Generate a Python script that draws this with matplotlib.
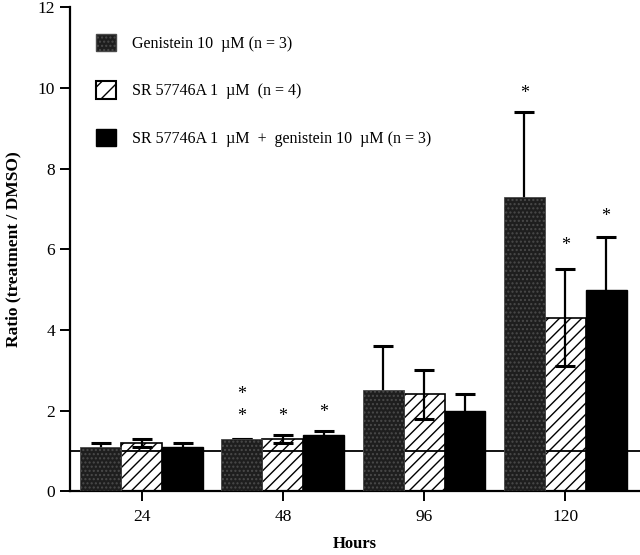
import numpy as np
import matplotlib.pyplot as plt
from matplotlib.patches import Patch

plt.rcParams['font.family'] = ['Liberation Serif', 'DejaVu Serif']

hours = ['24', '48', '96', '120']
labels = ['Genistein 10  \u00b5M (n = 3)',
          'SR 57746A 1  \u00b5M  (n = 4)',
          'SR 57746A 1  \u00b5M  +  genistein 10  \u00b5M (n = 3)']

# Mittelwerte und Fehler
geni = [1.1, 1.3, 2.5, 7.3]
geni_err = [0.1, 0.0, 1.1, 2.1]
sr = [1.2, 1.3, 2.4, 4.3]
sr_err = [0.1, 0.1, 0.6, 1.2]
combi = [1.1, 1.4, 2.0, 5.0]
combi_err = [0.1, 0.1, 0.4, 1.3]

# Sternchen: (Gruppe, Serie, y)
stars = [(1, 0, 2.4), (1, 0, 1.85), (1, 1, 1.85), (1, 2, 1.95),
         (3, 0, 9.85), (3, 1, 6.1), (3, 2, 6.8)]

fig = plt.figure(figsize=(6.4, 5.55), dpi=100)
ax = fig.add_axes([0.109, 0.115, 0.891, 0.872])

x = np.arange(len(hours))
w = 0.29
offs = [-w, 0, w]

# Reihenfolge: schraffiert < Linie y=1 < dunkle Balken
ax.bar(x + offs[1], sr, w, color='white', edgecolor='black', hatch='///', lw=1.2, zorder=2)
ax.axhline(1, color='black', lw=1.3, zorder=2.5)
ax.bar(x + offs[0], geni, w, color='#1e1e1e', edgecolor='#4a4a4a', hatch='....', lw=0.6, zorder=3)
ax.bar(x + offs[2], combi, w, color='black', edgecolor='black', lw=1.0, zorder=3)

for vals, err, o, z in [(geni, geni_err, offs[0], 2.8), (sr, sr_err, offs[1], 3.5),
                        (combi, combi_err, offs[2], 2.8)]:
    ax.errorbar(x + o, vals, yerr=err, fmt='none', ecolor='black', elinewidth=1.6,
                capsize=7, capthick=2.2, zorder=z)

for g, s, y in stars:
    ax.text(x[g] + offs[s], y, '*', ha='center', va='center', fontsize=13)

ax.set_xlim(-0.51, 3.53)
ax.set_ylim(0, 12)
ax.set_yticks(np.arange(0, 13, 2))
ax.set_xticks(x)
ax.set_xticklabels(hours)
ax.tick_params(labelsize=12.5, width=1.4, length=7)
ax.tick_params(axis='x', pad=6)
ax.spines['top'].set_visible(False)
ax.spines['right'].set_visible(False)
ax.spines['left'].set_linewidth(1.6)
ax.spines['bottom'].set_linewidth(1.6)
ax.set_xlabel('Hours', fontsize=12, fontweight='bold', labelpad=8)
ax.set_ylabel('Ratio (treatment / DMSO)', fontsize=12.5, fontweight='bold', labelpad=12)

handles = [Patch(facecolor='#1e1e1e', edgecolor='#4a4a4a', hatch='....'),
           Patch(facecolor='white', edgecolor='black', hatch='//', lw=1.5),
           Patch(facecolor='black', edgecolor='black')]
ax.legend(handles, labels, loc='upper left', bbox_to_anchor=(0.02, 0.975), frameon=False,
          fontsize=11.5, handlelength=1.3, handleheight=1.3, labelspacing=1.85, handletextpad=1.0)

fig.savefig('out.png', dpi=100)
